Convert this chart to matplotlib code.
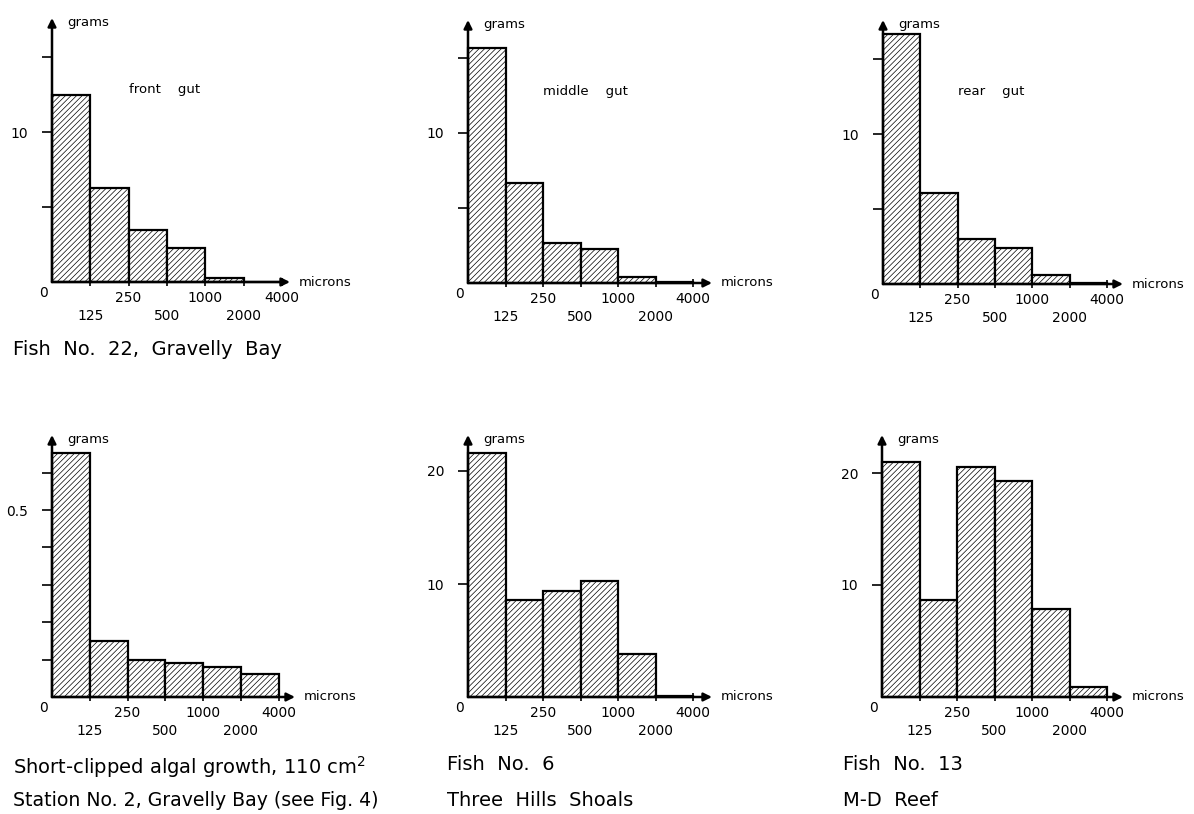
import matplotlib
matplotlib.use("Agg")
import matplotlib.pyplot as plt

plt.rcParams["font.family"] = ["DejaVu Sans"]
plt.rcParams["hatch.linewidth"] = 0.5

# size classes (microns) - bin edges
edge_upper = ["250", "1000", "4000"]
edge_lower = ["125", "500", "2000"]

# grams per size class, six classes each
front_gut = [12.5, 6.3, 3.5, 2.3, 0.3, 0.03]
middle_gut = [15.7, 6.7, 2.7, 2.3, 0.4, 0.05]
rear_gut = [16.7, 6.1, 3.0, 2.4, 0.6, 0.05]
algal_growth = [0.652, 0.15, 0.10, 0.091, 0.08, 0.062]
fish_6 = [21.6, 8.6, 9.4, 10.3, 3.8, 0.1]
fish_13 = [21.0, 8.7, 20.5, 19.3, 7.9, 0.9]

W, H = 1194, 814

# panel layout in pixels: origin x, origin y, px per bin, px per gram, arrow end x, arrow top y
panels = [
    dict(vals=front_gut, x0=52, y0=282, bpx=38.3, upx=15, xend=290, ytop=18,
         yticks=[5, 10, 15], ylab={10: "10"}, note="front    gut"),
    dict(vals=middle_gut, x0=468, y0=283, bpx=37.5, upx=15, xend=712, ytop=20,
         yticks=[5, 10, 15], ylab={10: "10"}, note="middle    gut"),
    dict(vals=rear_gut, x0=883, y0=284, bpx=37.3, upx=15, xend=1123, ytop=20,
         yticks=[5, 10, 15], ylab={10: "10"}, note="rear    gut"),
    dict(vals=algal_growth, x0=52, y0=697, bpx=37.8, upx=374, xend=295, ytop=435,
         yticks=[0.1, 0.2, 0.3, 0.4, 0.5, 0.6], ylab={0.5: "0.5"}, note=None),
    dict(vals=fish_6, x0=468, y0=697, bpx=37.5, upx=11.3, xend=712, ytop=435,
         yticks=[10, 20], ylab={10: "10", 20: "20"}, note=None),
    dict(vals=fish_13, x0=882, y0=697, bpx=37.5, upx=11.2, xend=1123, ytop=435,
         yticks=[10, 20], ylab={10: "10", 20: "20"}, note=None),
]

fig = plt.figure(figsize=(W / 100, H / 100), dpi=100)
fig.patch.set_facecolor("white")

for p in panels:
    ax = fig.add_axes([p["x0"] / W, 1 - p["y0"] / H,
                       (p["xend"] - p["x0"]) / W, (p["y0"] - p["ytop"]) / H])
    ax.set_xlim(0, (p["xend"] - p["x0"]) / p["bpx"])
    ax.set_ylim(0, (p["y0"] - p["ytop"]) / p["upx"])
    for s in ax.spines.values():
        s.set_visible(False)
    ax.patch.set_alpha(0)

    ax.bar(range(len(p["vals"])), p["vals"], width=1, align="edge",
           facecolor="white", edgecolor="black", linewidth=1.6, hatch="//////",
           clip_on=False, zorder=2)

    # axes with arrows
    ax.annotate("", xy=(1, 0), xytext=(0, 0), xycoords="axes fraction",
                arrowprops=dict(arrowstyle="-|>", lw=1.8, color="black",
                                mutation_scale=12, shrinkA=0, shrinkB=0), zorder=3)
    ax.annotate("", xy=(0, 1), xytext=(0, 0), xycoords="axes fraction",
                arrowprops=dict(arrowstyle="-|>", lw=1.8, color="black",
                                mutation_scale=12, shrinkA=0, shrinkB=0), zorder=3)

    ax.set_xticks(range(1, 7))
    ax.set_xticklabels([])
    ax.tick_params(axis="x", direction="inout", length=6, width=1.2)
    ax.set_yticks(p["yticks"])
    ax.set_yticklabels([p["ylab"].get(t, "") for t in p["yticks"]])
    ax.tick_params(axis="y", direction="out", length=7, width=1.2, pad=10,
                   labelsize=10)

    for i, lab in enumerate(edge_upper):
        ax.annotate(lab, xy=(2 * i + 2, 0), xytext=(0, -11.5),
                    textcoords="offset points", ha="center", va="center",
                    fontsize=10)
    for i, lab in enumerate(edge_lower):
        ax.annotate(lab, xy=(2 * i + 1, 0), xytext=(0, -24.5),
                    textcoords="offset points", ha="center", va="center",
                    fontsize=10)
    ax.annotate("0", xy=(0, 0), xytext=(-6, -8), textcoords="offset points",
                ha="center", va="center", fontsize=10)
    ax.annotate("grams", xy=(0, 1), xycoords="axes fraction", xytext=(11, -3),
                textcoords="offset points", ha="left", va="center", fontsize=9.5)
    ax.annotate("microns", xy=(1, 0), xycoords="axes fraction", xytext=(6, 0),
                textcoords="offset points", ha="left", va="center", fontsize=9.5)
    if p["note"]:
        ax.text(2.0, 12.8, p["note"], ha="left", va="center", fontsize=9.5)

cap = dict(fontsize=14, ha="left", va="center")
fig.text(13 / W, 1 - 350 / H, "Fish  No.  22,  Gravelly  Bay", **cap)
fig.text(13 / W, 1 - 767 / H, "Short-clipped algal growth, 110 cm$^2$", **cap)
fig.text(13 / W, 1 - 800 / H, "Station No. 2, Gravelly Bay (see Fig. 4)",
         fontsize=13.6, ha="left", va="center")
fig.text(447 / W, 1 - 765 / H, "Fish  No.  6", **cap)
fig.text(447 / W, 1 - 800 / H, "Three  Hills  Shoals", **cap)
fig.text(843 / W, 1 - 765 / H, "Fish  No.  13", **cap)
fig.text(843 / W, 1 - 800 / H, "M-D  Reef", **cap)

fig.savefig("out.png", dpi=100, facecolor="white")
